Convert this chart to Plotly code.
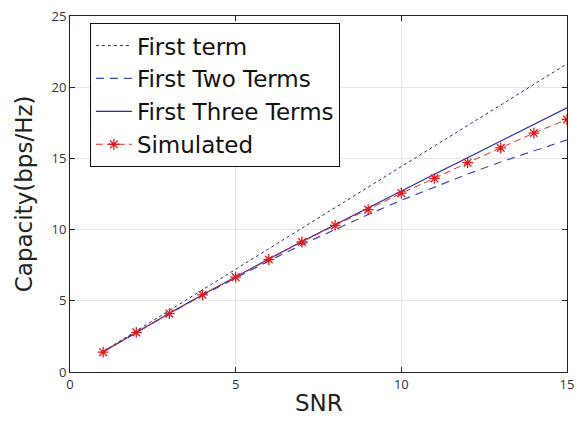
import plotly.graph_objects as go

snr = [1, 2, 3, 4, 5, 6, 7, 8, 9, 10, 11, 12, 13, 14, 15]
first_term = [1.44, 2.89, 4.33, 5.77, 7.21, 8.66, 10.10, 11.54, 12.98, 14.43, 15.87, 17.31, 18.75, 20.20, 21.64]
first_two = [1.42, 2.79, 4.11, 5.39, 6.62, 7.80, 8.94, 10.02, 11.06, 12.06, 13.00, 13.90, 14.75, 15.55, 16.30]
first_three = [1.42, 2.80, 4.13, 5.43, 6.70, 7.94, 9.17, 10.36, 11.55, 12.73, 13.89, 15.05, 16.22, 17.38, 18.55]
simulated = [1.39, 2.78, 4.10, 5.42, 6.66, 7.90, 9.13, 10.29, 11.40, 12.56, 13.60, 14.70, 15.74, 16.78, 17.73]

x_ticks = [0, 5, 10, 15]
y_ticks = [0, 5, 10, 15, 20, 25]

fig = go.Figure()
fig.add_trace(go.Scatter(x=snr, y=first_term, mode="lines", name="First term",
                         line=dict(color="#2a2a8a", width=1, dash="dot")))
fig.add_trace(go.Scatter(x=snr, y=first_two, mode="lines", name="First Two Terms",
                         line=dict(color="#4545b0", width=1.2, dash="8px,6px")))
fig.add_trace(go.Scatter(x=snr, y=first_three, mode="lines", name="First Three Terms",
                         line=dict(color="#2b2b9a", width=1.2)))
fig.add_trace(go.Scatter(x=snr, y=simulated, mode="lines+markers", name="Simulated",
                         line=dict(color="#e03030", width=1, dash="7px,4px"),
                         marker=dict(symbol="asterisk-open", size=9,
                                     line=dict(color="#e01818", width=1.3), color="#e01818")))

axis_common = dict(showline=True, linecolor="#222", linewidth=1, mirror="ticks",
                   ticks="inside", ticklen=5, tickcolor="#222",
                   showgrid=True, gridcolor="#e6e6e6", gridwidth=1, zeroline=False,
                   automargin=False, ticklabeloverflow="allow",
                   tickfont=dict(family="Open Sans", size=13, color="#333"))

fig.update_xaxes(range=[0, 15], tickvals=x_ticks, ticktext=[str(v) for v in x_ticks], **axis_common)
fig.update_yaxes(range=[0, 25], tickvals=y_ticks, ticktext=[str(v) for v in y_ticks], **axis_common)

# page body has an 8px default margin, so the figure is sized to fit the window
fig.update_layout(
    width=580, height=415,
    margin=dict(l=62, r=21, t=8, b=51),
    paper_bgcolor="white", plot_bgcolor="white",
    legend=dict(x=0.04, y=0.98, xanchor="left", yanchor="top",
                bordercolor="#111", borderwidth=1, bgcolor="white",
                font=dict(family="DejaVu Sans", size=23, color="#111"),
                tracegroupgap=0, itemwidth=36),
    showlegend=True,
)
fig.add_annotation(text="SNR", xref="paper", yref="paper", x=0.5, y=-0.088,
                   xanchor="center", yanchor="middle", showarrow=False,
                   font=dict(family="DejaVu Sans", size=23, color="#222"))
fig.add_annotation(text="Capacity(bps/Hz)", xref="paper", yref="paper", x=-0.092, y=0.5,
                   xanchor="center", yanchor="middle", showarrow=False, textangle=-90,
                   font=dict(family="DejaVu Sans", size=23, color="#222"))

fig.write_html("out.html")
